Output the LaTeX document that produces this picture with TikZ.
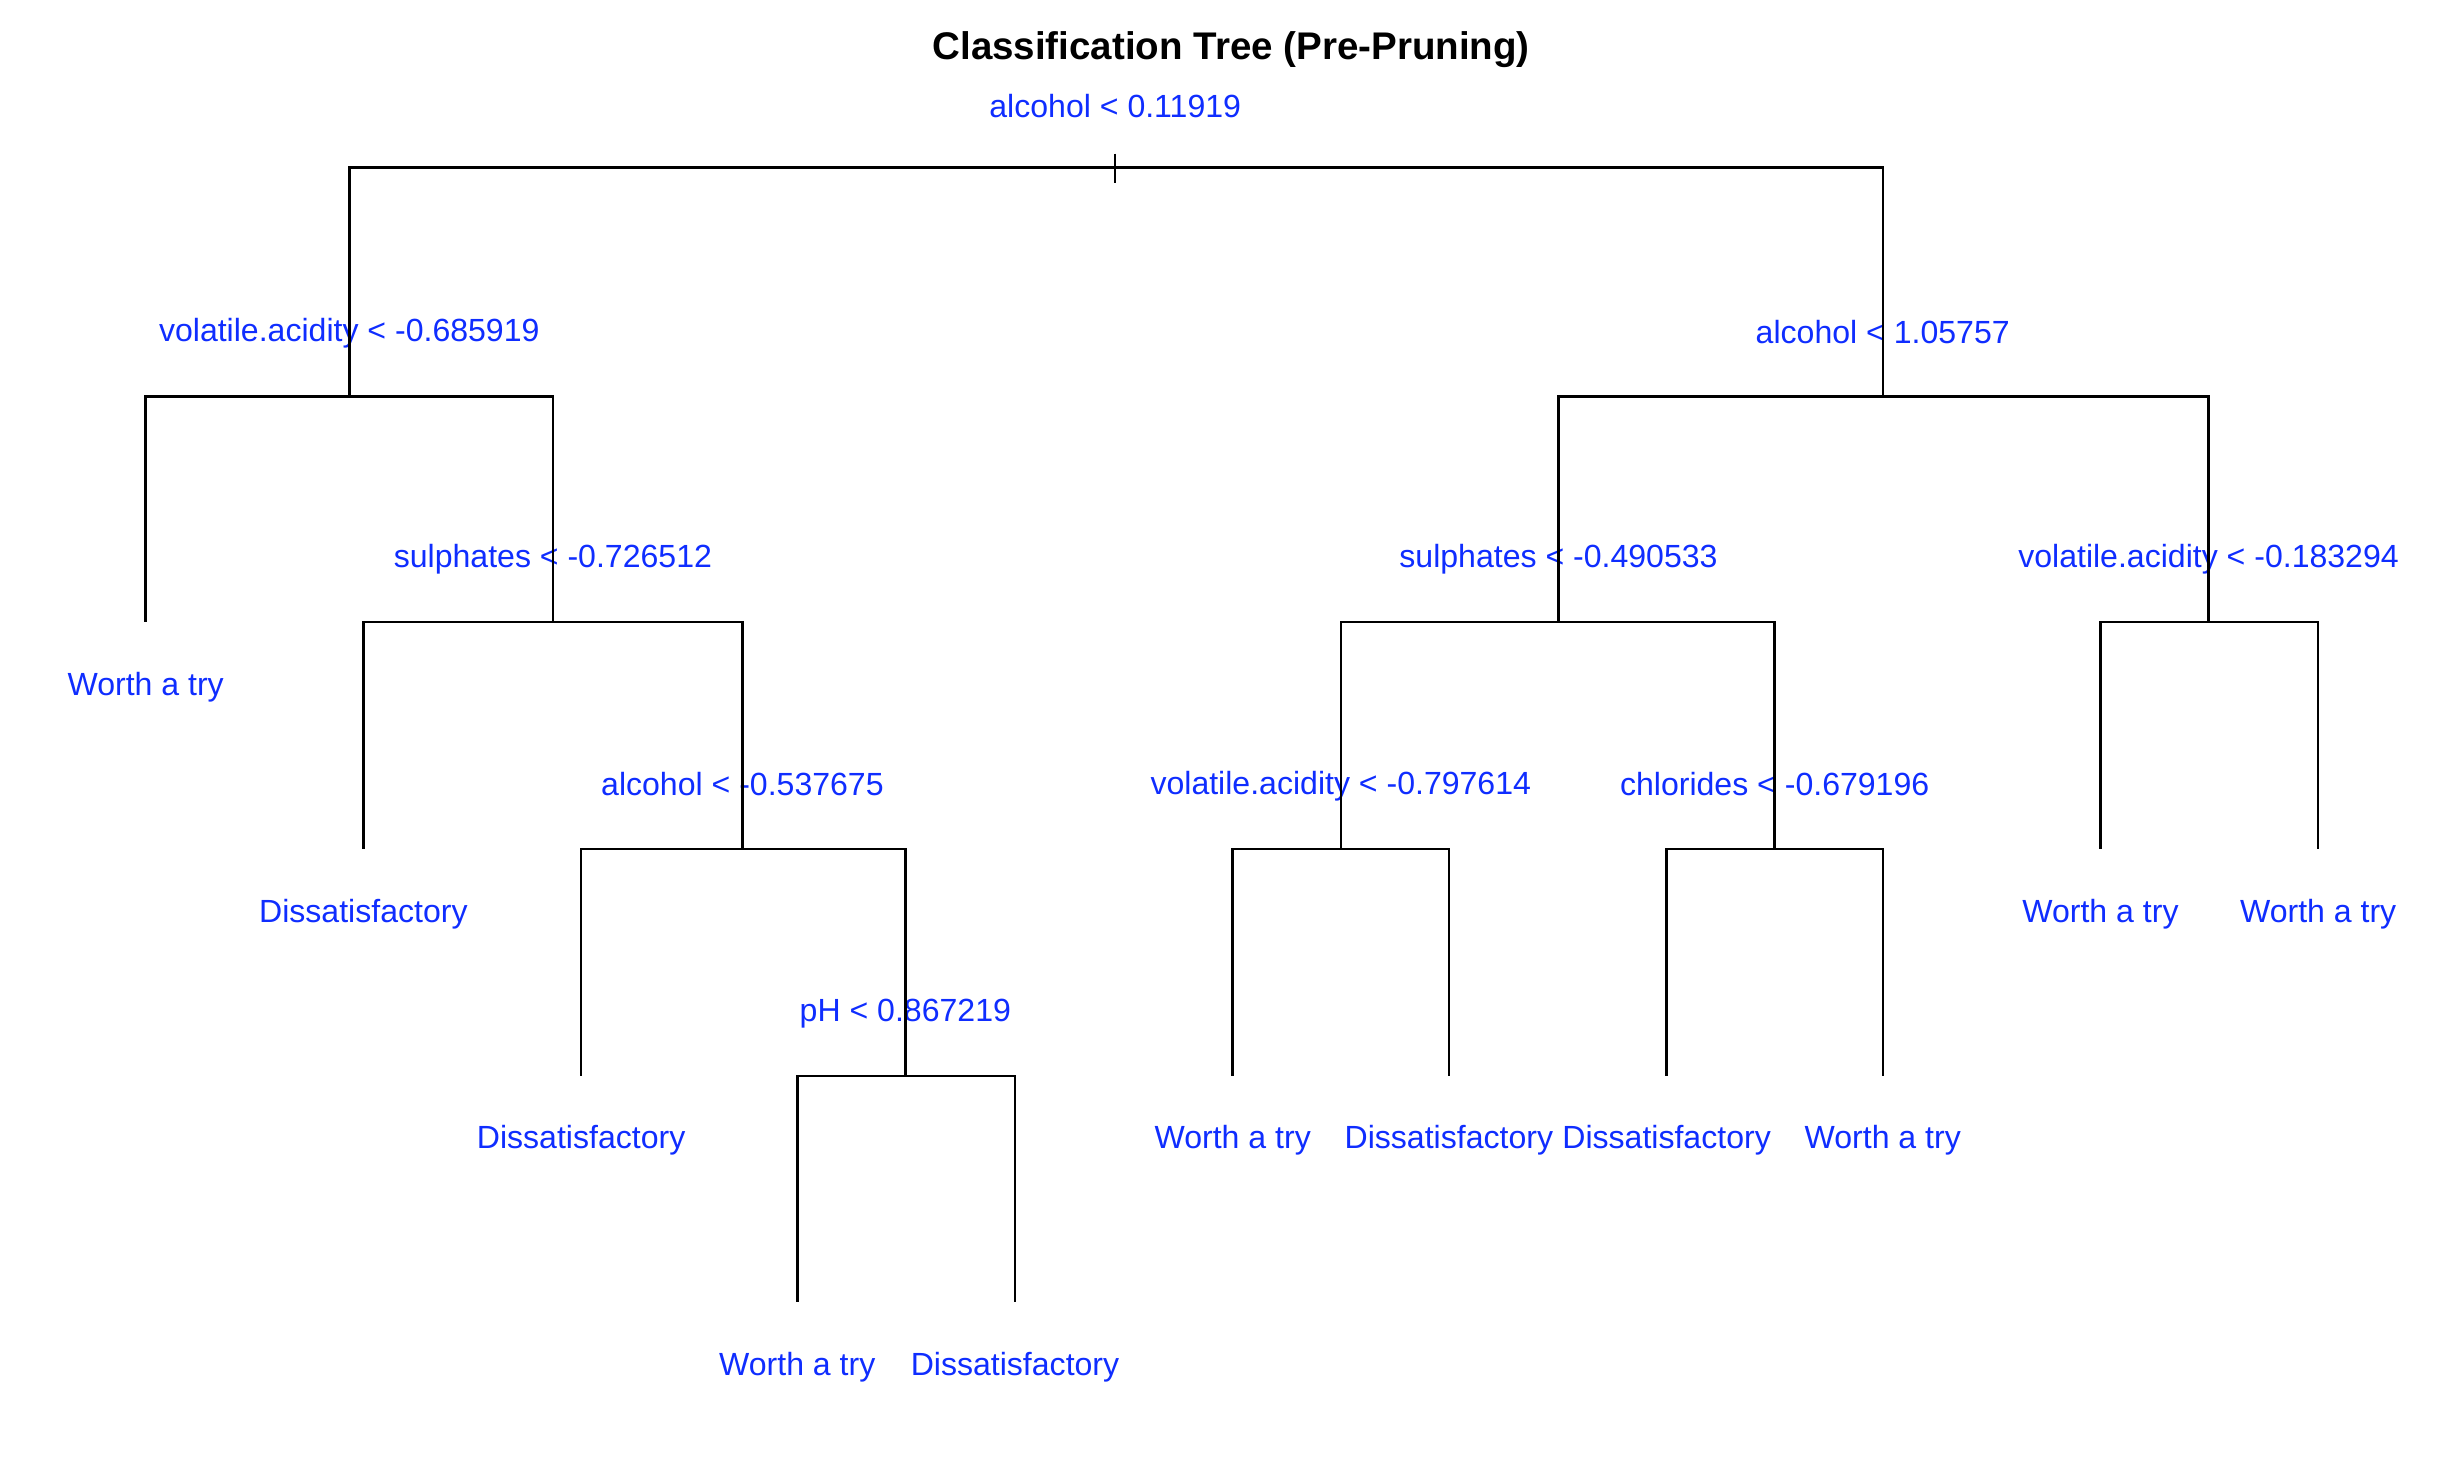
\documentclass[tikz,border=0pt]{standalone}
\usepackage{fontspec}
\setmainfont{Liberation Sans}
\usepackage{tikz}
\usetikzlibrary{positioning}
\definecolor{treeblue}{RGB}{15, 45, 255}

\begin{document}
\begin{tikzpicture}[
  x=0.02cm, y=-0.02cm,
  split/.style={anchor=base, inner sep=0pt, text=treeblue,
               font=\fontsize{11.65}{14}\selectfont},
  leaf/.style={anchor=base, inner sep=0pt, text=treeblue,
               font=\fontsize{11.65}{14}\selectfont},
  heading/.style={anchor=base, inner sep=0pt,
               font=\fontsize{14}{16}\selectfont\bfseries},
  branch/.style={draw=black, line width=0.9pt},
]
  \useasboundingbox (0,0) rectangle (1568,933);

  % Title
  \node[heading] (ttl) at (786,38) {Classification Tree (Pre-Pruning)};

  % Junctions
  \coordinate (top) at (712,98);
  \coordinate (bot) at (712,117);
  \coordinate (n1) at (712,107);
  \coordinate (n2) at (223,253);
  \coordinate (n3) at (1202,253);
  \coordinate (n4) at (353,397);
  \coordinate (n5) at (474,542);
  \coordinate (n6) at (578,687);
  \coordinate (n7) at (995,397);
  \coordinate (n8) at (1410,397);
  \coordinate (n9) at (856,542);
  \coordinate (n10) at (1133,542);
  % Leaf ends
  \coordinate (l1) at (93,397);
  \coordinate (l2) at (232,542);
  \coordinate (l3) at (371,687);
  \coordinate (l4) at (509,831);
  \coordinate (l5) at (648,831);
  \coordinate (l6) at (787,687);
  \coordinate (l7) at (925,687);
  \coordinate (l8) at (1064,687);
  \coordinate (l9) at (1202,687);
  \coordinate (l10) at (1341,542);
  \coordinate (l11) at (1480,542);

  % Split labels
  \node[split] (s1) at (712,75) {alcohol < 0.11919};
  \node[split] (s2) at (223,218) {volatile.acidity < -0.685919};
  \node[split] (s3) at (1202,219) {alcohol < 1.05757};
  \node[split] (s4) at (353,362) {sulphates < -0.726512};
  \node[split] (s5) at (474,508) {alcohol < -0.537675};
  \node[split] (s6) at (578,652) {pH < 0.867219};
  \node[split] (s7) at (995,362) {sulphates < -0.490533};
  \node[split] (s8) at (1410,362) {volatile.acidity < -0.183294};
  \node[split] (s9) at (856,507) {volatile.acidity < -0.797614};
  \node[split] (s10) at (1133,508) {chlorides < -0.679196};

  % Leaf labels
  \node[leaf] (t1) at (93,444) {Worth a try};
  \node[leaf] (t2) at (232,589) {Dissatisfactory};
  \node[leaf] (t3) at (371,733) {Dissatisfactory};
  \node[leaf] (t4) at (509,878) {Worth a try};
  \node[leaf] (t5) at (648,878) {Dissatisfactory};
  \node[leaf] (t6) at (787,733) {Worth a try};
  \node[leaf] (t7) at (925,733) {Dissatisfactory};
  \node[leaf] (t8) at (1064,733) {Dissatisfactory};
  \node[leaf] (t9) at (1202,733) {Worth a try};
  \node[leaf] (t10) at (1341,589) {Worth a try};
  \node[leaf] (t11) at (1480,589) {Worth a try};

  % Branches
  \draw[branch] (top) -- (bot);
  \draw[branch] (n1) -| (n2);
  \draw[branch] (n1) -| (n3);
  \draw[branch] (n2) -| (l1);
  \draw[branch] (n2) -| (n4);
  \draw[branch] (n4) -| (l2);
  \draw[branch] (n4) -| (n5);
  \draw[branch] (n5) -| (l3);
  \draw[branch] (n5) -| (n6);
  \draw[branch] (n6) -| (l4);
  \draw[branch] (n6) -| (l5);
  \draw[branch] (n3) -| (n7);
  \draw[branch] (n3) -| (n8);
  \draw[branch] (n7) -| (n9);
  \draw[branch] (n7) -| (n10);
  \draw[branch] (n9) -| (l6);
  \draw[branch] (n9) -| (l7);
  \draw[branch] (n10) -| (l8);
  \draw[branch] (n10) -| (l9);
  \draw[branch] (n8) -| (l10);
  \draw[branch] (n8) -| (l11);
\end{tikzpicture}
\end{document}
